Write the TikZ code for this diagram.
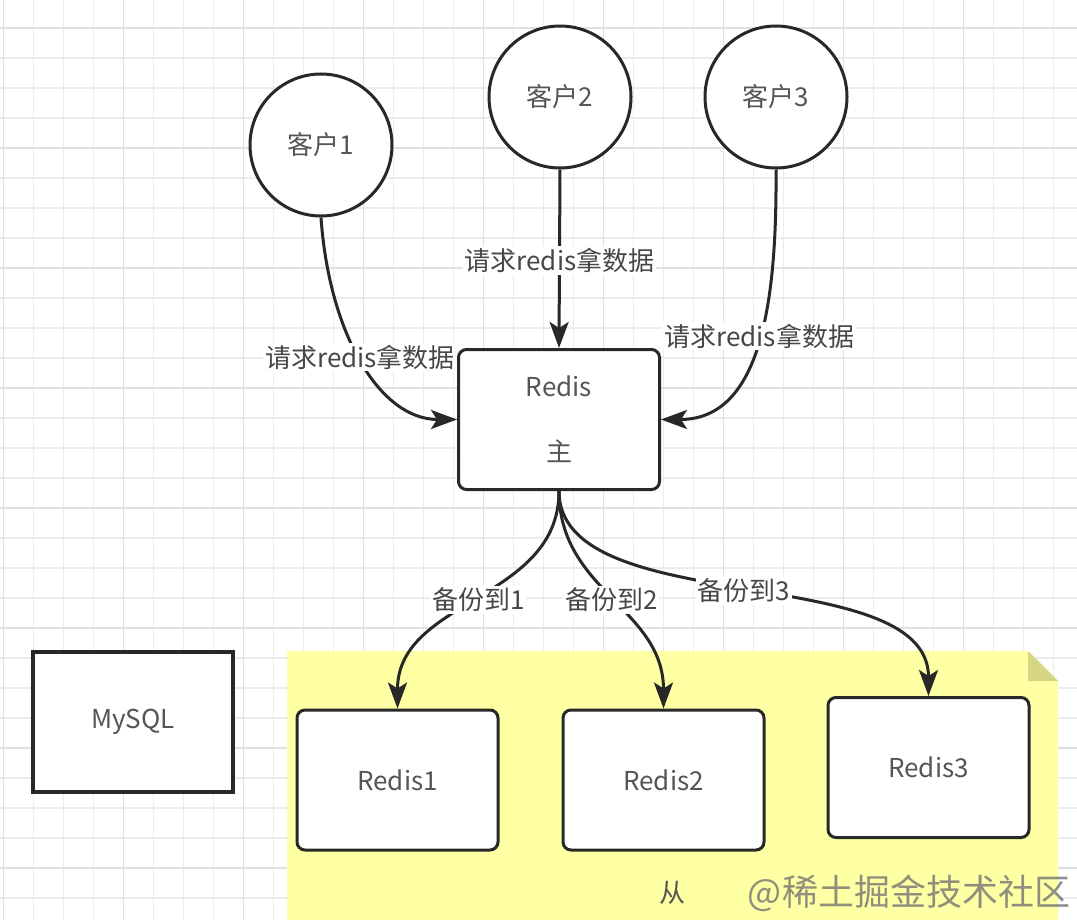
\documentclass[tikz,border=0pt]{standalone}
\usepackage{fontspec}
\setmainfont{Noto Sans CJK SC}
\usetikzlibrary{arrows.meta}

\definecolor{notebg}{RGB}{255,255,163}
\definecolor{notefold}{RGB}{214,214,130}
\definecolor{txtgray}{RGB}{85,85,85}
\definecolor{gridminor}{RGB}{236,236,236}
\definecolor{gridmajor}{RGB}{224,224,224}
\definecolor{linedark}{RGB}{40,40,40}

\begin{document}
\begin{tikzpicture}[x=1pt, y=-1pt,
    every node/.style={text=txtgray, font=\fontsize{26}{30}\selectfont},
    client/.style={circle, draw=linedark, line width=3pt, fill=white, minimum size=142pt, inner sep=0pt},
    rbox/.style={draw=linedark, line width=3pt, fill=white, rounded corners=8pt, minimum width=201pt, minimum height=140pt},
    sbox/.style={draw=linedark, line width=3.5pt, fill=white, minimum width=200pt, minimum height=140pt},
    edge/.style={draw=linedark, line width=3pt, -{Stealth[length=26pt, width=19pt, inset=6pt]}},
    lbl/.style={fill=white, inner sep=2pt, text=black!72, font=\fontsize{26}{30}\selectfont}
]
    \useasboundingbox (0,0) rectangle (1077,920);
    \fill[white] (0,0) rectangle (1077,920);

    % grid paper
    \foreach \x in {3.5,33.5,...,1077}{
        \draw[gridminor, line width=1.2pt] (\x,0) -- (\x,920);
    }
    \foreach \y in {-2,28,...,920}{
        \draw[gridminor, line width=1.2pt] (0,\y) -- (1077,\y);
    }
    \foreach \x in {3.5,123.5,...,1077}{
        \draw[gridmajor, line width=1.4pt] (\x,0) -- (\x,920);
    }
    \foreach \y in {28,148,...,920}{
        \draw[gridmajor, line width=1.4pt] (0,\y) -- (1077,\y);
    }

    % sticky note behind the slaves
    \fill[notebg] (287,651) -- (1028,651) -- (1058,681) -- (1058,920) -- (287,920) -- cycle;
    \fill[notefold] (1028,651) -- (1058,681) -- (1028,681) -- cycle;

    \node[client] (c1) at (321,145) {客户1};
    \node[client] (c2) at (560,97) {客户2};
    \node[client] (c3) at (776,97) {客户3};

    \node[rbox, align=center] (redis) at (559,419.5) {Redis\\[35pt]主};

    \node[rbox] (r1) at (397.5,780) {Redis1};
    \node[rbox] (r2) at (663.5,780) {Redis2};
    \node[rbox] (r3) at (928.5,767.5) {Redis3};
    \node[sbox] (mysql) at (133,722) {MySQL};

    \node (slave) at (672,893) {从};

    % requests
    \draw[edge] (c1.south) .. controls +(8,115) and +(-78,0) .. (redis.west)
        node[lbl, pos=0.48] (q1) {请求redis拿数据};
    \draw[edge] (c2.south) -- (redis.north)
        node[lbl, pos=0.51] (q2) {请求redis拿数据};
    \draw[edge] (c3.south) .. controls +(1,133) and +(100,0) .. (redis.east)
        node[lbl, pos=0.47] (q3) {请求redis拿数据};

    % backups
    \draw[edge] (redis.south) .. controls +(0,110) and +(0,-110) .. (r1.north)
        node[lbl, pos=0.5] (b1) {备份到1};
    \draw[edge] (redis.south) .. controls +(0,100) and +(0,-100) .. (r2.north)
        node[lbl, pos=0.5] (b2) {备份到2};
    \draw[edge] (redis.south) .. controls +(0,130) and +(0,-137) .. (r3.north)
        node[lbl, pos=0.5] (b3) {备份到3};

    \node[text=black!55, opacity=0.8, font=\fontsize{36}{40}\selectfont] (wm) at (909,893) {@稀土掘金技术社区};
\end{tikzpicture}
\end{document}
